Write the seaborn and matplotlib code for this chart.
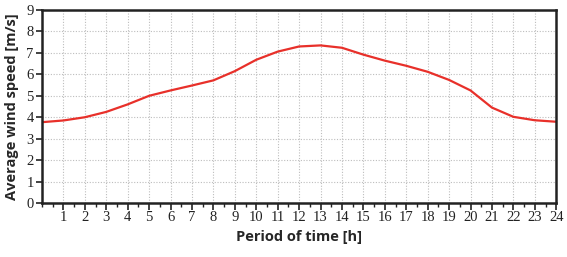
import matplotlib
matplotlib.use("Agg")
import matplotlib.pyplot as plt
import seaborn as sns
import pandas as pd
import numpy as np
from matplotlib.ticker import MultipleLocator

hours = list(range(0, 25))
speed = [3.77, 3.85, 4.0, 4.25, 4.6, 5.0, 5.25, 5.48, 5.72, 6.15, 6.68, 7.06, 7.3, 7.35, 7.24,
         6.92, 6.64, 6.4, 6.12, 5.74, 5.25, 4.45, 4.02, 3.86, 3.79]
x_ticks = list(range(1, 25))
y_ticks = list(range(0, 10))

df = pd.DataFrame({"hour": hours, "speed": speed})

sns.set_style("white")
fig = plt.figure(figsize=(5.67, 2.57), dpi=100)
ax = fig.add_axes([0.074, 0.21, 0.907, 0.751])
sns.lineplot(data=df, x="hour", y="speed", ax=ax, color="#e8302a", linewidth=1.6)

ax.set_xlim(0, 24)
ax.set_ylim(0, 9)
ax.set_xticks(x_ticks)
ax.set_yticks(y_ticks)
ax.xaxis.set_minor_locator(MultipleLocator(0.5))
serif = ["Liberation Serif", "DejaVu Serif"]
ax.set_xticklabels([str(v) for v in x_ticks], family=serif, fontsize=10.5)
ax.set_yticklabels([str(v) for v in y_ticks], family=serif, fontsize=10.5)
ax.tick_params(axis="x", which="both", bottom=True, colors="#222222")
ax.tick_params(axis="y", which="both", left=True, colors="#222222")
ax.tick_params(axis="x", which="major", direction="out", length=5, width=1.2, pad=1)
ax.tick_params(axis="x", which="minor", direction="out", length=3, width=1)
ax.tick_params(axis="y", which="major", direction="out", length=4, width=1.2, pad=2)
ax.grid(True, which="major", color="#bdbdbd", linestyle=(0, (1, 1.5)), linewidth=0.8)
for s in ax.spines.values():
    s.set_color("#222222")
    s.set_linewidth(1.8)
ax.set_xlabel("Period of time [h]", fontsize=10.5, fontweight="bold", family=["Open Sans", "DejaVu Sans"], labelpad=4)
ax.set_ylabel("Average wind speed [m/s]", fontsize=10.5, fontweight="bold", family=["Open Sans", "DejaVu Sans"], labelpad=5)
ax.set_facecolor("white")
fig.savefig("out.png", dpi=100)
